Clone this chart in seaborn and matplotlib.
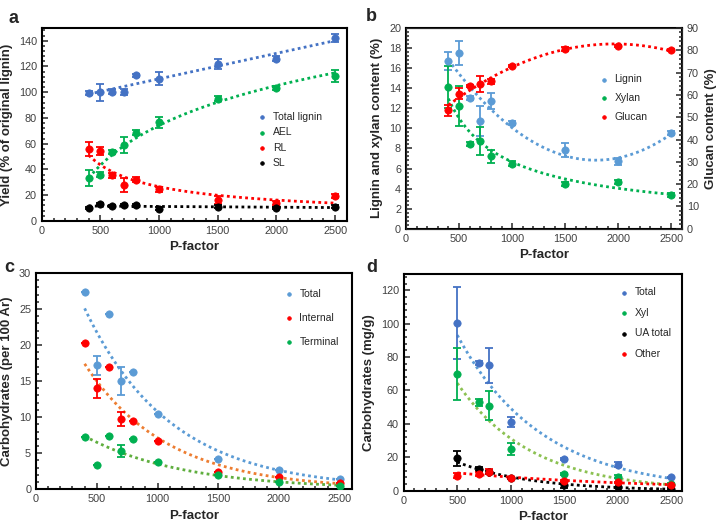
import numpy as np
import pandas as pd
import seaborn as sns
import matplotlib.pyplot as plt
from matplotlib.ticker import MultipleLocator

# ---- data ----
pf = [400, 500, 600, 700, 800, 1000, 1500, 2000, 2500]
pf_d = [500, 700, 800, 1000, 1500, 2000, 2500]

# a: yield (% of original lignin)
total_lignin = [99.5, 100, 100.5, 100, 113, 110.5, 122, 126, 142]
total_lignin_err = [1.5, 6.5, 2, 2.5, 1.5, 5, 4, 2, 3]
ael = [33.5, 36, 53.5, 59, 68.5, 76.5, 95, 103, 112.5]
ael_err = [6, 2, 1.5, 6.5, 2, 4, 2, 1.5, 4.5]
rl = [56, 54.5, 35.5, 28, 32, 24.5, 16.5, 14, 19.5]
rl_err = [5.5, 3, 2, 5.5, 2, 2, 3, 1.5, 1.5]
sl = [10, 13, 11.5, 12.5, 12, 9.5, 11, 10, 11]
sl_err = [1, 1, 1, 1, 1, 1, 1, 1, 1]

# b: composition
lignin = [16.7, 17.5, 13, 10.7, 12.7, 10.5, 7.8, 6.7, 9.5]
lignin_err = [0.9, 1.2, 0.2, 1.5, 0.8, 0.2, 0.7, 0.3, 0.2]
xylan = [14.1, 12.2, 8.4, 8.7, 7.2, 6.5, 4.5, 4.7, 3.4]
xylan_err = [2.1, 2.0, 0.2, 1.4, 0.6, 0.2, 0.2, 0.2, 0.2]
glucan = [53, 60.5, 64, 65, 66, 73, 80.5, 82, 80]
glucan_err = [2.3, 2.5, 0.5, 3.5, 1, 0.5, 1, 0.5, 0.5]

# c: carbohydrates per 100 Ar
carb_total = [27.4, 17.2, 24.3, 15, 16.3, 10.5, 4.2, 2.7, 1.4]
carb_total_err = [0, 1.3, 0, 2, 0, 0, 0, 0, 0]
carb_internal = [20.3, 14, 16.9, 9.7, 9.4, 6.7, 2.4, 1.7, 0.9]
carb_internal_err = [0, 1.3, 0, 1, 0, 0, 0, 0, 0]
carb_terminal = [7.2, 3.3, 7.4, 5.3, 6.9, 3.8, 1.9, 1.0, 0.5]
carb_terminal_err = [0, 0, 0, 0.9, 0, 0, 0, 0, 0]

# d: carbohydrates mg/g
d_total = [100.5, 76.5, 75, 41, 19, 15.5, 8]
d_total_err = [21.5, 1, 10.5, 3, 0.5, 1.5, 0.5]
d_xyl = [70, 53, 51, 25, 10, 8.5, 4]
d_xyl_err = [15.5, 2, 8.5, 3.5, 0.5, 1, 0.5]
d_ua = [19.5, 13, 11, 7.5, 3.5, 2, 1]
d_ua_err = [4.5, 1, 1, 0.5, 2, 0.5, 0.5]
d_other = [9, 10, 11.5, 7.5, 6, 5, 3.5]
d_other_err = [1.5, 1, 1.5, 0.5, 0.5, 0.5, 0.5]

BLUE = '#4472C4'
LBLUE = '#5B9BD5'
GREEN = '#00B050'
LGREEN = '#8CC152'
RED = '#FF0000'
ORANGE = '#ED7D31'
BLACK = '#000000'

LABEL_FS = 9.5


# trend line helpers (Excel-like trendlines fitted to the data)
def fit(x, y, kind):
    x = np.asarray(x, float)
    y = np.asarray(y, float)
    xs = np.linspace(x.min(), x.max(), 200)
    if kind == 'lin':
        c = np.polyfit(x, y, 1)
        ys = np.polyval(c, xs)
    elif kind == 'poly2':
        c = np.polyfit(x, y, 2)
        ys = np.polyval(c, xs)
    elif kind == 'log':
        c = np.polyfit(np.log(x), y, 1)
        ys = c[0] * np.log(xs) + c[1]
    elif kind == 'pow':
        c = np.polyfit(np.log(x), np.log(y), 1)
        ys = np.exp(c[1]) * xs ** c[0]
    else:  # exp
        c = np.polyfit(x, np.log(y), 1)
        ys = np.exp(c[1]) * np.exp(c[0] * xs)
    return pd.DataFrame({'x': xs, 'y': ys})


def series(ax, x, y, err, color, label, kind, tcolor=None):
    t = fit(x, y, kind)
    sns.lineplot(data=t, x='x', y='y', ax=ax, color=tcolor or color,
                 linestyle=(0, (1, 1.2)), linewidth=2, legend=False)
    err = np.asarray(err, float)
    if err.max() > 0:
        ax.errorbar(x, y, yerr=err, fmt='none', ecolor=color, elinewidth=1.3,
                    capsize=3, capthick=1.3, zorder=3)
    df = pd.DataFrame({'x': x, 'y': y})
    sns.scatterplot(data=df, x='x', y='y', ax=ax, color=color, s=28,
                    edgecolor=color, linewidth=0.5, label=label, zorder=4)


def style_ticks(ax, ymajor, yminor):
    ax.yaxis.set_major_locator(MultipleLocator(ymajor))
    ax.yaxis.set_minor_locator(MultipleLocator(yminor))
    ax.tick_params(which='both', direction='in', labelsize=7.8,
                   labelcolor='#404040', width=1.1)
    ax.tick_params(which='major', length=4)
    ax.tick_params(which='minor', length=2.5)


def style_axes(ax, ymax, ymajor, yminor):
    ax.set_xlim(0, 2600)
    ax.set_ylim(0, ymax)
    ax.xaxis.set_major_locator(MultipleLocator(500))
    ax.xaxis.set_minor_locator(MultipleLocator(100))
    style_ticks(ax, ymajor, yminor)
    for s in ax.spines.values():
        s.set_linewidth(1.5)
        s.set_color('black')
    ax.set_xlabel('P-factor', fontsize=LABEL_FS, fontweight='bold')


def legend(ax, handles, labels, anchor, spacing):
    ax.legend(handles, labels, loc='upper left', bbox_to_anchor=anchor,
              frameon=False, fontsize=7.5, handletextpad=0.0,
              markerscale=0.5, labelspacing=spacing, borderaxespad=0)


sns.set_style('ticks')
plt.rcParams['font.family'] = ['Liberation Sans', 'DejaVu Sans']

fig = plt.figure(figsize=(7.21, 5.26), dpi=100)
ax_a = fig.add_axes([0.058, 0.580, 0.423, 0.367])
ax_b = fig.add_axes([0.563, 0.565, 0.383, 0.382])
ax_c = fig.add_axes([0.050, 0.070, 0.438, 0.411])
ax_d = fig.add_axes([0.560, 0.067, 0.386, 0.413])

# ---- a ----
series(ax_a, pf, total_lignin, total_lignin_err, BLUE, 'Total lignin', 'lin')
series(ax_a, pf, ael, ael_err, GREEN, 'AEL', 'log')
series(ax_a, pf, rl, rl_err, RED, 'RL', 'pow')
series(ax_a, pf, sl, sl_err, BLACK, 'SL', 'lin')
style_axes(ax_a, 150, 20, 4)
ax_a.set_ylabel('Yield (% of original lignin)', fontsize=LABEL_FS, fontweight='bold')
h, l = ax_a.get_legend_handles_labels()
legend(ax_a, h, l, (0.675, 0.585), 0.5)

# ---- b ----
ax_b2 = ax_b.twinx()
series(ax_b, pf, lignin, lignin_err, LBLUE, 'Lignin', 'poly2')
series(ax_b, pf, xylan, xylan_err, GREEN, 'Xylan', 'pow')
series(ax_b2, pf, glucan, glucan_err, RED, 'Glucan', 'poly2')
style_axes(ax_b, 20, 2, 0.4)
ax_b.set_ylabel('Lignin and xylan content (%)', fontsize=LABEL_FS, fontweight='bold')
ax_b2.set_ylim(0, 90)
style_ticks(ax_b2, 10, 2)
ax_b2.set_ylabel('Glucan content (%)', fontsize=LABEL_FS, fontweight='bold')
h1, l1 = ax_b.get_legend_handles_labels()
h2, l2 = ax_b2.get_legend_handles_labels()
ax_b.get_legend().remove()
legend(ax_b2, h1 + h2, l1 + l2, (0.665, 0.79), 0.85)

# ---- c ----
series(ax_c, pf, carb_total, carb_total_err, LBLUE, 'Total', 'exp')
series(ax_c, pf, carb_internal, carb_internal_err, RED, 'Internal', 'exp', ORANGE)
series(ax_c, pf, carb_terminal, carb_terminal_err, GREEN, 'Terminal', 'exp', '#5FAE3E')
style_axes(ax_c, 30, 5, 1)
ax_c.set_ylabel('Carbohydrates (per 100 Ar)', fontsize=LABEL_FS, fontweight='bold')
h, l = ax_c.get_legend_handles_labels()
legend(ax_c, h, l, (0.755, 0.945), 1.35)

# ---- d ----
series(ax_d, pf_d, d_total, d_total_err, BLUE, 'Total', 'exp', LBLUE)
series(ax_d, pf_d, d_xyl, d_xyl_err, GREEN, 'Xyl', 'exp', LGREEN)
series(ax_d, pf_d, d_ua, d_ua_err, BLACK, 'UA total', 'exp')
series(ax_d, pf_d, d_other, d_other_err, RED, 'Other', 'exp')
style_axes(ax_d, 130, 20, 4)
ax_d.set_ylabel('Carbohydrates (mg/g)', fontsize=LABEL_FS, fontweight='bold')
h, l = ax_d.get_legend_handles_labels()
legend(ax_d, h, l, (0.74, 0.955), 1.0)

for ax, lab, x, y in [(ax_a, 'a', 0.012, 0.965), (ax_b, 'b', 0.508, 0.968),
                      (ax_c, 'c', 0.006, 0.492), (ax_d, 'd', 0.508, 0.492)]:
    fig.text(x, y, lab, fontsize=13, fontweight='bold', va='center')

fig.savefig('out.png', dpi=100)
